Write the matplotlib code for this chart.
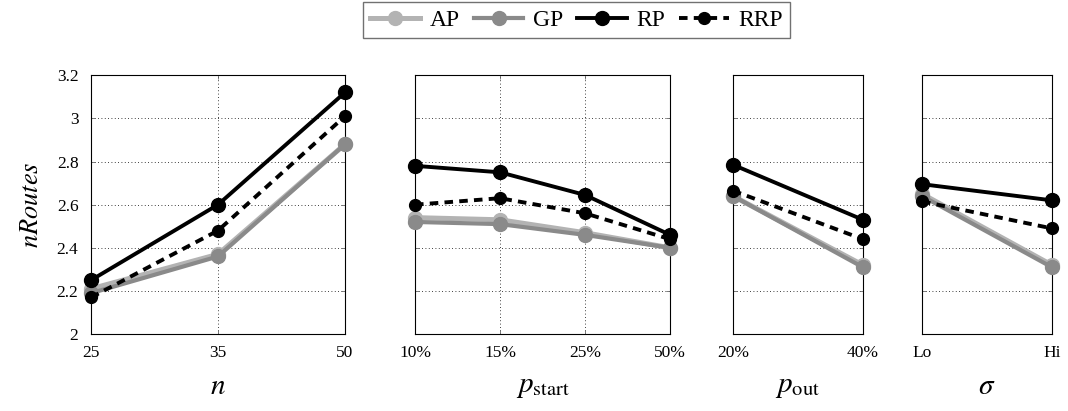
import matplotlib.pyplot as plt

plt.rcParams['font.family'] = ['Liberation Serif', 'DejaVu Serif']
plt.rcParams['mathtext.fontset'] = 'stix'

# panel categories
n_labels = ["25", "35", "50"]
pstart_labels = ["10%", "15%", "25%", "50%"]
pout_labels = ["20%", "40%"]
sigma_labels = ["Lo", "Hi"]

# nRoutes per method, panel by panel
ap_n = [2.21, 2.37, 2.88]
gp_n = [2.19, 2.36, 2.88]
rp_n = [2.25, 2.60, 3.12]
rrp_n = [2.17, 2.48, 3.01]

ap_pstart = [2.54, 2.53, 2.47, 2.40]
gp_pstart = [2.52, 2.51, 2.46, 2.40]
rp_pstart = [2.78, 2.75, 2.645, 2.46]
rrp_pstart = [2.60, 2.63, 2.56, 2.44]

ap_pout = [2.64, 2.32]
gp_pout = [2.64, 2.31]
rp_pout = [2.785, 2.53]
rrp_pout = [2.665, 2.44]

ap_sigma = [2.65, 2.32]
gp_sigma = [2.64, 2.31]
rp_sigma = [2.695, 2.62]
rrp_sigma = [2.615, 2.49]

panels = [
    (n_labels, ap_n, gp_n, rp_n, rrp_n, r"$n$"),
    (pstart_labels, ap_pstart, gp_pstart, rp_pstart, rrp_pstart, r"$p_{\mathrm{start}}$"),
    (pout_labels, ap_pout, gp_pout, rp_pout, rrp_pout, r"$p_{\mathrm{out}}$"),
    (sigma_labels, ap_sigma, gp_sigma, rp_sigma, rrp_sigma, r"$\sigma$"),
]

# axes boxes in figure fraction: left, width
boxes = [(0.0852, 0.2378), (0.3886, 0.2388), (0.6863, 0.1217), (0.8633, 0.1217)]
bottom, height = 0.187, 0.630

fig = plt.figure(figsize=(10.68, 4.11), dpi=100)

styles = [
    ("AP", dict(color="#b3b3b3", lw=3.6, ls="-", marker="o", ms=10)),
    ("GP", dict(color="#8a8a8a", lw=3.0, ls="-", marker="o", ms=10)),
    ("RP", dict(color="black", lw=2.8, ls="-", marker="o", ms=10)),
    ("RRP", dict(color="black", lw=2.8, ls=(0, (2.2, 1.6)), marker="o", ms=8.5)),
]

handles = []
for i, (labels, ap, gp, rp, rrp, xlab) in enumerate(panels):
    left, width = boxes[i]
    ax = fig.add_axes([left, bottom, width, height])
    x = list(range(len(labels)))
    for (name, st), vals in zip(styles, [ap, gp, rp, rrp]):
        h, = ax.plot(x, vals, label=name, clip_on=False, zorder=3, **st)
        if i == 0:
            handles.append(h)
    ax.set_xlim(0, len(labels) - 1)
    ax.set_ylim(2, 3.2)
    ax.set_xticks(x)
    ax.set_xticklabels(labels, fontsize=12.5)
    ax.set_yticks([2, 2.2, 2.4, 2.6, 2.8, 3, 3.2])
    if i == 0:
        ax.set_yticklabels(["2", "2.2", "2.4", "2.6", "2.8", "3", "3.2"], fontsize=12.5)
        ax.set_ylabel(r"$nRoutes$", fontsize=19, labelpad=10)
    else:
        ax.set_yticklabels([])
    ax.grid(True, ls=(0, (1, 3)), color="black", lw=0.6)
    ax.tick_params(direction="in", top=True, right=True, length=3, width=0.6, color="0.4")
    ax.tick_params(axis="x", pad=8)
    ax.tick_params(axis="y", pad=9)
    ax.set_xlabel(xlab, fontsize=21, labelpad=9)
    for s in ax.spines.values():
        s.set_linewidth(0.8)

fig.legend(handles=handles, loc="upper center", bbox_to_anchor=(0.54, 1.0), ncol=4,
           fontsize=17, frameon=True, fancybox=False, edgecolor="0.3",
           handlelength=2.1, handletextpad=0.4, columnspacing=0.6, borderpad=0.3,
           borderaxespad=0.1)

fig.savefig("out.png", dpi=100)
